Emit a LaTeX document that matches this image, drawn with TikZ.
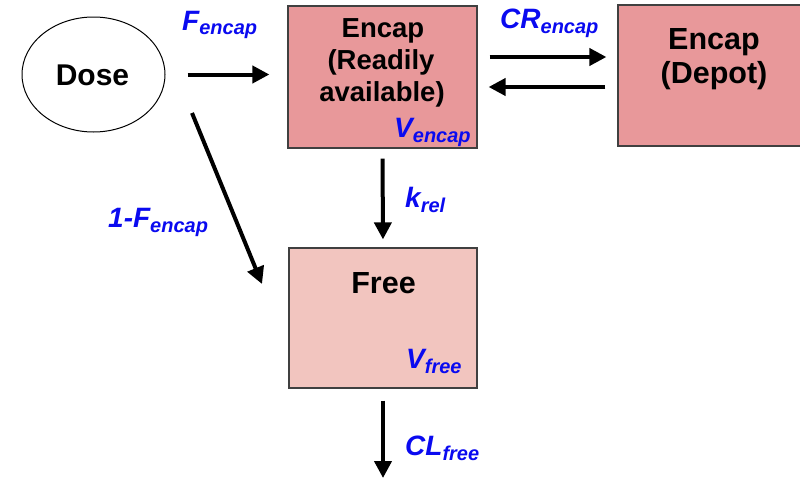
\documentclass[tikz,border=0pt]{standalone}
\usepackage{fontspec}
\setmainfont{Liberation Sans}
\usetikzlibrary{arrows.meta,shapes.geometric}
\definecolor{encfill}{HTML}{E8989A}
\definecolor{freefill}{HTML}{F2C5BF}
\definecolor{edgegray}{HTML}{404040}
\definecolor{lblblue}{HTML}{0A0AF0}
\newcommand\mylab[2]{{\fontsize{28}{28}\selectfont\bfseries\itshape #1}{\fontsize{20}{20}\selectfont\bfseries\itshape\raisebox{-5pt}{#2}}}
\tikzset{
  boxnode/.style={draw=edgegray, line width=1.2pt, rectangle, inner sep=0pt},
  arr/.style={line width=4pt, -{Triangle[length=17pt,width=17pt]}},
  boxtxt/.style={anchor=base, inner sep=0pt, font=\fontsize{27.5}{27.5}\selectfont\bfseries},
  bigtxt/.style={anchor=base, inner sep=0pt, font=\fontsize{30.5}{30.5}\selectfont\bfseries},
  lbl/.style={anchor=base west, inner sep=0pt, text=lblblue}
}
\begin{document}
\begin{tikzpicture}[x=1pt,y=-1pt]
\useasboundingbox (0,0) rectangle (800,479);
% nodes
\node[ellipse, draw=black, line width=1pt, minimum width=143pt, minimum height=115pt, inner sep=0pt] (dose) at (93.5,74.5) {};
\node[bigtxt, font=\fontsize{30}{30}\selectfont\bfseries] (dosetxt) at (92.5,85) {Dose};
\node[boxnode, fill=encfill, minimum width=189pt, minimum height=142pt] (enc) at (382.5,77) {};
\node[boxnode, fill=encfill, minimum width=197pt, minimum height=141pt] (dep) at (716.5,75.5) {};
\node[boxnode, fill=freefill, minimum width=188pt, minimum height=140pt] (free) at (383,318) {};
% box texts
\node[boxtxt] (enct1) at (383,37) {Encap};
\node[boxtxt] (enct2) at (381,69.5) {(Readily};
\node[boxtxt] (enct3) at (382,101.5) {available)};
\node[bigtxt] (dept1) at (714,49) {Encap};
\node[bigtxt] (dept2) at (714,83) {(Depot)};
\node[bigtxt] (freet) at (383.5,293) {Free};
% blue labels
\node[lbl] (venc) at (394,137) {\mylab{V}{encap}};
\node[lbl] (vfree) at (406,368) {\mylab{V}{free}};
\node[lbl] (fenc) at (182,30) {\mylab{F}{encap}};
\node[lbl] (crenc) at (500,28) {\mylab{CR}{encap}};
\node[lbl] (krel) at (405,207) {\mylab{k}{rel}};
\node[lbl] (onef) at (108,227) {\mylab{1-F}{encap}};
\node[lbl] (clfree) at (405,455) {\mylab{CL}{free}};
% connectors
\draw[arr, shorten <=22pt, shorten >=18pt] (dose.east) -- (dose.east -| enc.west);
\draw[arr, shorten <=12pt, shorten >=11pt] ([yshift=20pt]enc.east) -- ([yshift=20pt]enc.east -| dep.west);
\draw[arr, shorten <=12pt, shorten >=11pt] ([yshift=-10pt]enc.east -| dep.west) -- ([yshift=-10pt]enc.east);
\draw[arr, shorten <=10pt, shorten >=8pt] (enc.south) -- (free.north);
\coordinate (dstart) at (192,113);
\coordinate (dend) at (262,284);
\draw[arr] (dstart) -- (dend);
\coordinate (clend) at (383,478);
\draw[arr, shorten <=12pt] (free.south) -- (clend);
\end{tikzpicture}
\end{document}
